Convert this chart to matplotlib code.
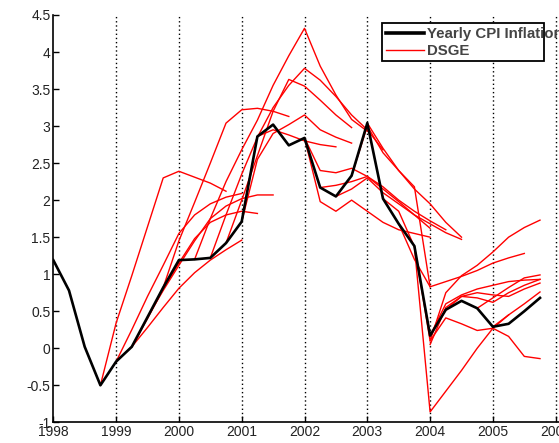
import matplotlib
matplotlib.use("Agg")
import matplotlib.pyplot as plt
from matplotlib.patches import Rectangle
from matplotlib.lines import Line2D
import numpy as np

plt.rcParams['font.family'] = ['Liberation Sans', 'DejaVu Sans']

# Yearly CPI inflation (quarterly observations starting 1998Q1)
cpi_start = 1998.0
cpi_values = [1.19, 0.78, 0.02, -0.50, -0.18, 0.02, 0.42, 0.82,
              1.19, 1.20, 1.22, 1.42, 1.71, 2.86, 3.02, 2.74,
              2.84, 2.17, 2.05, 2.33, 3.04, 2.02, 1.68, 1.38,
              0.17, 0.52, 0.64, 0.54, 0.29, 0.33, 0.50, 0.68]

# DSGE forecast paths: start year and quarterly values
dsge_starts = [1998.75, 1999.0, 1999.0, 1999.25, 1999.5, 1999.75,
               2000.25, 2000.5, 2000.75, 2001.0, 2001.25,
               2002.0, 2002.0, 2002.25, 2002.5, 2002.75,
               2003.0, 2003.25, 2003.5, 2003.75, 2004.0, 2004.0,
               2004.0, 2004.25, 2004.75, 2005.0]
dsge_values = [
    [-0.50, 0.34, 0.98, 1.64, 2.30, 2.39, 2.31, 2.23, 2.12],
    [-0.18, 0.25, 0.70, 1.12, 1.55, 1.80, 1.95, 2.04, 2.09],
    [-0.18, 0.02, 0.28, 0.55, 0.81, 1.02, 1.19, 1.33, 1.46],
    [0.02, 0.40, 0.80, 1.15, 1.48, 1.70, 1.80, 1.85, 1.82],
    [0.42, 0.78, 1.12, 1.45, 1.75, 1.92, 2.02, 2.07, 2.07],
    [0.82, 1.45, 1.97, 2.50, 3.04, 3.22, 3.24, 3.20, 3.13],
    [1.20, 1.75, 2.25, 2.68, 3.08, 3.55, 3.95, 4.32, 3.81, 3.42, 3.09, 2.93],
    [1.22, 1.80, 2.35, 2.85, 3.25, 3.55, 3.78, 3.62, 3.40, 3.15, 2.95, 2.68],
    [1.42, 2.00, 2.60, 3.20, 3.63, 3.54, 3.35, 3.15, 2.98],
    [1.71, 2.55, 2.90, 3.02, 3.15, 2.95, 2.85, 2.77],
    [2.86, 2.95, 2.88, 2.80, 2.75, 2.72],
    [2.84, 2.40, 2.37, 2.43, 2.32, 2.15, 1.98, 1.80, 1.62],
    [2.84, 1.98, 1.85, 2.00, 1.85, 1.70, 1.60, 1.55, 1.50],
    [2.17, 2.20, 2.25, 2.32, 2.18, 2.00, 1.85, 1.72, 1.60],
    [2.05, 2.15, 2.30, 2.10, 1.95, 1.80, 1.68, 1.56, 1.47],
    [2.33, 3.00, 2.64, 2.40, 2.18, 0.83],
    [3.04, 2.70, 2.40, 2.15, 1.95, 1.70, 1.50],
    [2.02, 1.85, 1.37, -0.86, -0.58, -0.30, 0.00, 0.27, 0.45],
    [1.68, 1.20, 0.83, 0.90, 0.97, 1.05, 1.15, 1.22, 1.28],
    [1.38, 0.10, 0.75, 0.98, 1.12, 1.30, 1.50, 1.63, 1.73],
    [0.05, 0.55, 0.70, 0.68, 0.62, 0.75, 0.85, 0.93],
    [0.10, 0.41, 0.33, 0.24, 0.27, 0.16, -0.11, -0.14],
    [0.17, 0.60, 0.72, 0.80, 0.85, 0.90, 0.92, 0.93],
    [0.52, 0.70, 0.75, 0.72, 0.70, 0.80, 0.88],
    [0.54, 0.68, 0.82, 0.95, 0.99],
    [0.29, 0.45, 0.60, 0.76],
]

year_ticks = [1998, 1999, 2000, 2001, 2002, 2003, 2004, 2005, 2006]
y_ticks = [-1, -0.5, 0, 0.5, 1, 1.5, 2, 2.5, 3, 3.5, 4, 4.5]
y_ticklabels = ['-1', '-0.5', '0', '0.5', '1', '1.5', '2', '2.5', '3', '3.5', '4', '4.5']
legend_labels = ['Yearly CPI Inflation', 'DSGE']

W, H = 559, 443
fig = plt.figure(figsize=(W / 100, H / 100), dpi=100)
left = 53.3 / W
bottom = (H - 422.3) / H
height = (422.3 - 15) / H
px_per_year = (555.7 - 53.3) / 8
xmax = 2006.6
width = (xmax - 1998) * px_per_year / W
ax = fig.add_axes([left, bottom, width, height])

for yr in year_ticks[1:]:
    ax.axvline(yr, color='black', linestyle=(0, (1, 2)), linewidth=1.0, zorder=1)

for s, vals in zip(dsge_starts, dsge_values):
    x = s + 0.25 * np.arange(len(vals))
    ax.plot(x, vals, color='#ff0000', linewidth=1.0, zorder=2)

xc = cpi_start + 0.25 * np.arange(len(cpi_values))
ax.plot(xc, cpi_values, color='black', linewidth=1.9, zorder=3)

ax.set_xlim(1998, xmax)
ax.set_ylim(-1, 4.5)
ax.set_xticks(year_ticks)
ax.set_xticklabels([str(y) for y in year_ticks])
ax.set_yticks(y_ticks)
ax.set_yticklabels(y_ticklabels)
ax.tick_params(direction='in', length=4, width=1, labelsize=10, pad=2,
               colors='black', labelcolor='#222222')
ax.spines['top'].set_visible(False)
ax.spines['right'].set_visible(False)
ax.spines['left'].set_linewidth(1.2)
ax.spines['bottom'].set_linewidth(1.2)

# Legend box (MATLAB style, text overflows the box)
def fx(px):
    return px / W

def fy(py):
    return 1 - py / H

fig.patches.append(Rectangle((fx(382), fy(61)), fx(544) - fx(382), fy(23) - fy(61),
                             transform=fig.transFigure, facecolor='white',
                             edgecolor='black', linewidth=1.3, zorder=5))
fig.lines.append(Line2D([fx(386), fx(424)], [fy(33), fy(33)], transform=fig.transFigure,
                        color='black', linewidth=2.6, zorder=6))
fig.lines.append(Line2D([fx(386), fx(424)], [fy(50), fy(50)], transform=fig.transFigure,
                        color='#ff0000', linewidth=1.0, zorder=6))
fig.text(fx(427), fy(34), legend_labels[0], fontsize=10.8, fontweight='bold',
         color='#444444', va='center', ha='left', zorder=7)
fig.text(fx(427), fy(51), legend_labels[1], fontsize=10.8, fontweight='bold',
         color='#444444', va='center', ha='left', zorder=7)

fig.savefig('out.png', dpi=100)
